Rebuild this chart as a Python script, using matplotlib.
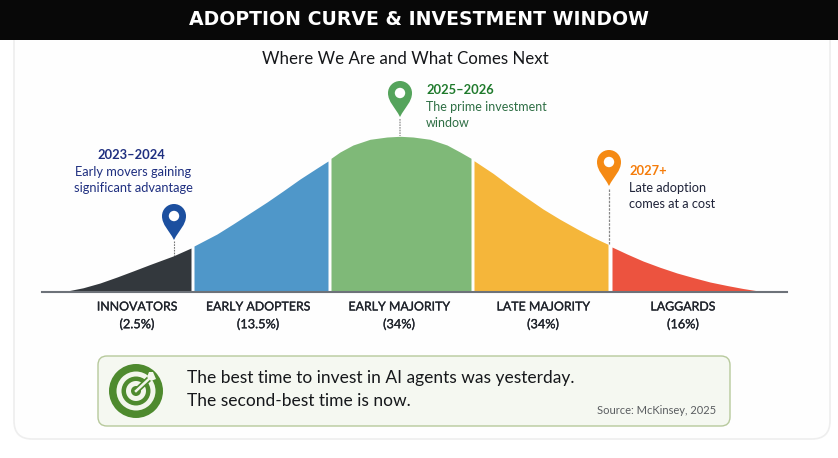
import numpy as np
import matplotlib
matplotlib.use('Agg')
import matplotlib.pyplot as plt
import matplotlib.patheffects as pe
from matplotlib.patches import Circle, FancyBboxPatch, PathPatch, Polygon, Rectangle
from matplotlib.path import Path

plt.rcParams['font.family'] = ['Lato', 'DejaVu Sans']

W, H = 838, 458
BASE = 292  # pixel row of the baseline, curve heights are measured from it

title = 'ADOPTION CURVE & INVESTMENT WINDOW'
subtitle = 'Where We Are and What Comes Next'

stage_names = ['INNOVATORS', 'EARLY ADOPTERS', 'EARLY MAJORITY', 'LATE MAJORITY', 'LAGGARDS']
stage_shares = ['(2.5%)', '(13.5%)', '(34%)', '(34%)', '(16%)']
stage_colors = ['#33383d', '#4f97c9', '#7fb978', '#f5b63a', '#ec533f']

innovators_x = [62, 83, 100, 117, 133, 150, 173, 191]
innovators_h = [0, 4.2, 9, 15, 21, 27.5, 36, 44]
early_adopters_x = [194, 217, 233, 250, 267, 283, 300, 317, 328]
early_adopters_h = [46, 58, 68, 79, 90, 101, 113, 124, 131]
early_majority_x = [331, 340, 353, 370, 387, 400, 413, 430, 447, 460, 471]
early_majority_h = [133.7, 140, 147, 152.7, 155, 155.7, 155, 152.7, 147, 140, 133.7]
late_majority_x = [474, 493, 510, 527, 543, 560, 577, 593, 608]
late_majority_h = [131.3, 118.7, 106, 94, 83, 72.7, 63.2, 54.7, 47.7]
laggards_x = [612, 627, 643, 660, 677, 693, 710, 727, 743, 765]
laggards_h = [45, 38, 31, 24.7, 19, 14.5, 10, 6.5, 3.5, 0]

curve_x = [innovators_x, early_adopters_x, early_majority_x, late_majority_x, laggards_x]
curve_h = [innovators_h, early_adopters_h, early_majority_h, late_majority_h, laggards_h]
label_x = [137, 258, 399, 543, 683]

# a touch of stroke, the original lettering is heavier than Lato Regular
heavy = [pe.withStroke(linewidth=0.2, foreground='#20242c')]


def py(y):
    # pixel row to data y
    return BASE - y


def pin(ax, x, tip_y, color, r=12):
    # map marker: round head with a pointed tip, white hole
    cy = tip_y - 24
    k = 0.552 * r
    verts = [(x, tip_y), (x - 5, tip_y - 10), (x - r, tip_y - 15), (x - r, cy),
             (x - r, cy - k), (x - k, cy - r), (x, cy - r),
             (x + k, cy - r), (x + r, cy - k), (x + r, cy),
             (x + r, tip_y - 15), (x + 5, tip_y - 10), (x, tip_y), (x, tip_y)]
    codes = [Path.MOVETO] + [Path.CURVE4] * 12 + [Path.CLOSEPOLY]
    ax.add_patch(PathPatch(Path([(a, py(b)) for a, b in verts], codes), fc=color, ec='none', zorder=5))
    ax.add_patch(Circle((x, py(cy)), 5.2, fc='white', ec='none', zorder=6))


fig = plt.figure(figsize=(W / 100, H / 100), dpi=100)
ax = fig.add_axes([0, 0, 1, 1])
ax.set_xlim(0, W)
ax.set_ylim(BASE - H, BASE)
ax.axis('off')

# card behind everything, header hides its top
ax.add_patch(FancyBboxPatch((14, py(439)), 816, 439, boxstyle='round,pad=0,rounding_size=18',
                            fc='#fefefe', ec='#eeeeee', lw=1.2))
ax.add_patch(Rectangle((0, py(40)), W, 40, fc='#080808', ec='none', zorder=3))
ax.text(419, py(19.5), title, color='white', fontsize=13.6, fontweight='bold',
        family='DejaVu Sans', ha='center', va='center', zorder=4)
ax.text(405, py(58.5), subtitle, color='#15171a', fontsize=12.2, ha='center', va='center')

# the bell curve
for xs, hs, c in zip(curve_x, curve_h, stage_colors):
    ax.fill_between(xs, 0, hs, color=c, lw=0, zorder=2)
ax.plot([42, 787], [0, 0], color='#6d7279', lw=1.5, zorder=3)

for x, name, share in zip(label_x, stage_names, stage_shares):
    ax.text(x, py(307), name, color='#20242c', fontsize=8.9, ha='center', va='center', path_effects=heavy)
    ax.text(x, py(324), share, color='#20242c', fontsize=9.2, ha='center', va='center', path_effects=heavy)

# pins and their notes
ax.plot([174, 174], [py(241), py(256)], color='#777777', lw=0.8, ls=(0, (1.5, 1)), zorder=1)
pin(ax, 174, 240, '#1c4f9f')
ax.plot([400, 400], [py(119), py(136)], color='#aaaaaa', lw=1.2, ls=(0, (1, 0.6)), zorder=1)
pin(ax, 400, 117, '#55a45c')
ax.plot([609, 609], [py(189), py(244)], color='#888888', lw=0.9, ls=(0, (2, 1)), zorder=3)
pin(ax, 609, 186, '#f58a14')

navy = '#1f2f80'
ax.text(131, py(155), '2023–2024', color=navy, fontsize=9.3, fontweight='bold', ha='center', va='center')
ax.text(133, py(172), 'Early movers gaining', color=navy, fontsize=9.3, ha='center', va='center')
ax.text(133, py(188), 'significant advantage', color=navy, fontsize=9.3, ha='center', va='center')

ax.text(426, py(90), '2025–2026', color='#1f7a2c', fontsize=9.3, fontweight='bold', va='center')
ax.text(426, py(107), 'The prime investment', color='#2f6f45', fontsize=9.0, va='center')
ax.text(426, py(123), 'window', color='#2f6f45', fontsize=9.0, va='center')

ax.text(629, py(171), '2027+', color='#f57c0a', fontsize=9.3, fontweight='bold', va='center')
ax.text(629, py(188), 'Late adoption', color='#20243a', fontsize=9.2, va='center')
ax.text(629, py(204), 'comes at a cost', color='#20243a', fontsize=9.2, va='center')

# takeaway box
ax.add_patch(FancyBboxPatch((98, py(426)), 632, 70, boxstyle='round,pad=0,rounding_size=9',
                            fc='#f5f8f1', ec='#b7c99c', lw=1.0))
ax.text(187, py(378.5), 'The best time to invest in AI agents was yesterday.', color='#16181b',
        fontsize=12.5, va='center')
ax.text(187, py(401), 'The second-best time is now.', color='#16181b', fontsize=12.5, va='center')
ax.text(716, py(410), 'Source: McKinsey, 2025', color='#5a5d60', fontsize=8.0, ha='right', va='center')

# target icon
cx, cy = 136, py(391)
for r, c in zip([27, 19.5, 14.5, 10, 5], ['#4e8a2e', '#f2f6ec', '#4e8a2e', '#f2f6ec', '#4e8a2e']):
    ax.add_patch(Circle((cx, cy), r, fc=c, ec='none', zorder=4))
ax.plot([cx, cx + 15], [cy, cy + 14], color='#4e8a2e', lw=4.2, zorder=5)
ax.plot([cx, cx + 15], [cy, cy + 14], color='#f2f6ec', lw=1.8, zorder=6)
ax.add_patch(Polygon([(cx + 11, cy + 14), (cx + 15, cy + 10), (cx + 20, cy + 12),
                      (cx + 17, cy + 19), (cx + 13, cy + 19)], fc='#f2f6ec', ec='none', zorder=6))

plt.savefig('out.png', dpi=100)
